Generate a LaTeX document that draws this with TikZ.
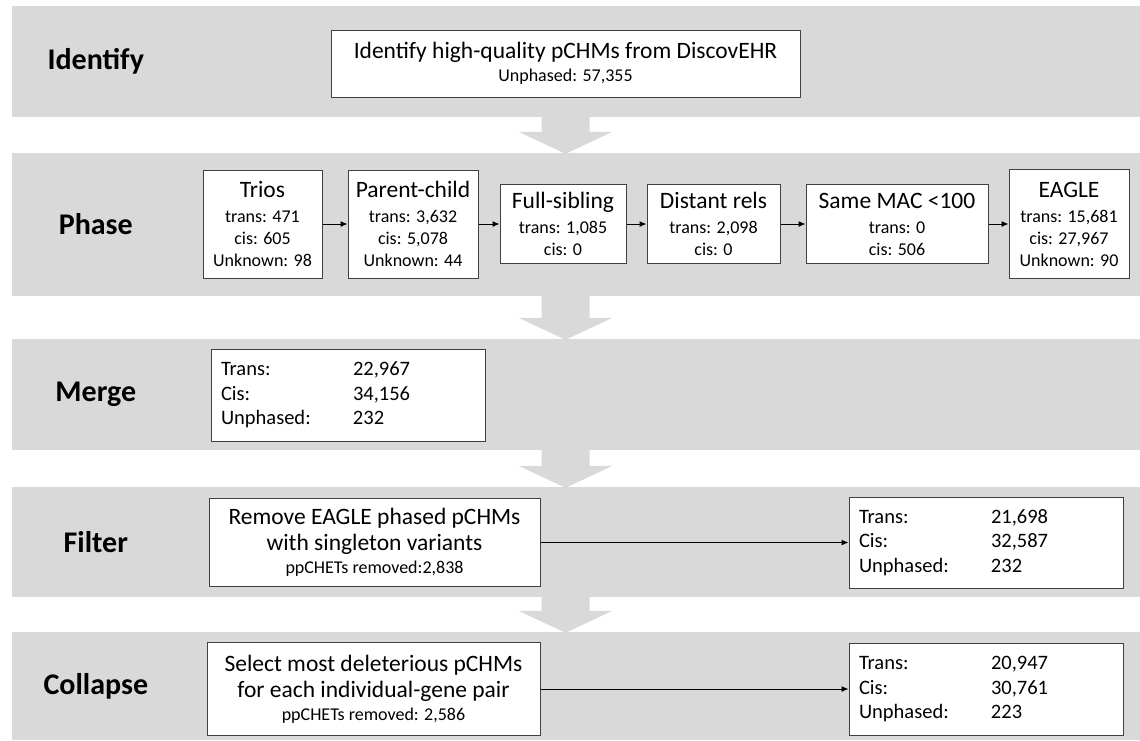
\documentclass[tikz,border=0pt]{standalone}
\usepackage{fontspec}
\setmainfont{Carlito}
\usetikzlibrary{calc,arrows.meta}

\definecolor{bandgray}{HTML}{D9D9D9}
\definecolor{boxline}{HTML}{404040}

\newcommand{\bigtxt}{\fontsize{23.5}{25}\selectfont}
\newcommand{\smalltxt}{\fontsize{18}{22}\selectfont}
\newcommand{\tabtxt}{\fontsize{20.5}{24.5}\selectfont}
\newcommand{\cnt}[2]{\makebox[132pt][l]{#1}#2}

\tikzset{
  band/.style={fill=bandgray, draw=none, minimum width=1128pt, inner sep=0pt},
  stage/.style={font=\fontsize{30}{32}\selectfont\bfseries},
  box/.style={draw=boxline, line width=1pt, fill=white, align=center, inner sep=0pt, font=\smalltxt},
  tally/.style={draw=boxline, line width=1pt, fill=white, align=left, text width=254pt,
    inner xsep=10pt, inner ysep=0pt, font=\tabtxt},
  flow/.style={line width=1pt, -{Latex[length=7pt,width=6pt]}},
}

\begin{document}
\begin{tikzpicture}[x=1pt,y=-1pt]
  \useasboundingbox (0,0) rectangle (1140,740);

  % stage bands
  \node[band, minimum height=111pt] (band1) at (576,61.5) {};
  \node[band, minimum height=143pt] (band2) at (576,224.5) {};
  \node[band, minimum height=111pt] (band3) at (576,394.5) {};
  \node[band, minimum height=110pt] (band4) at (576,542) {};
  \node[band, minimum height=108pt] (band5) at (576,686) {};

  \node[stage] (lident) at ($(band1.west)+(84,0)$) {Identify};
  \node[stage] (lphase) at ($(band2.west)+(84,0)$) {Phase};
  \node[stage] (lmerge) at ($(band3.west)+(84,0)$) {Merge};
  \node[stage] (lfilter) at ($(band4.west)+(84,0)$) {Filter};
  \node[stage] (lcollapse) at ($(band5.west)+(84,0)$) {Collapse};

  % identify
  \node[box, minimum width=469pt, minimum height=67pt] (ident) at (565.5,63.5)
    {{\bigtxt Identify high-quality pCHMs from DiscovEHR}\\[1pt]Unphased: 57,355};

  % big arrows between bands
  \coordinate (a1) at (band1.south -| ident);
  \coordinate (b1) at (band2.north -| ident);
  \coordinate (a2) at (band2.south -| ident);
  \coordinate (b2) at (band3.north -| ident);
  \coordinate (a3) at (band3.south -| ident);
  \coordinate (b3) at (band4.north -| ident);
  \coordinate (a4) at (band4.south -| ident);
  \coordinate (b4) at (band5.north -| ident);
  \fill[bandgray] ($(a1)+(-24,-1)$) -- ($(a1)+(24,-1)$) -- ($(b1)+(24,-21)$) -- ($(b1)+(47,-21)$)
    -- ($(b1)+(0,1)$) -- ($(b1)+(-47,-21)$) -- ($(b1)+(-24,-21)$) -- cycle;
  \fill[bandgray] ($(a2)+(-24,-1)$) -- ($(a2)+(24,-1)$) -- ($(b2)+(24,-21)$) -- ($(b2)+(47,-21)$)
    -- ($(b2)+(0,1)$) -- ($(b2)+(-47,-21)$) -- ($(b2)+(-24,-21)$) -- cycle;
  \fill[bandgray] ($(a3)+(-24,-1)$) -- ($(a3)+(24,-1)$) -- ($(b3)+(24,-21)$) -- ($(b3)+(47,-21)$)
    -- ($(b3)+(0,1)$) -- ($(b3)+(-47,-21)$) -- ($(b3)+(-24,-21)$) -- cycle;
  \fill[bandgray] ($(a4)+(-24,-1)$) -- ($(a4)+(24,-1)$) -- ($(b4)+(24,-21)$) -- ($(b4)+(47,-21)$)
    -- ($(b4)+(0,1)$) -- ($(b4)+(-47,-21)$) -- ($(b4)+(-24,-21)$) -- cycle;

  % phase
  \node[box, minimum width=119pt, minimum height=108pt] (trios) at (262.5,224)
    {{\bigtxt Trios}\\[3pt]trans: 471\\cis: 605\\Unknown: 98};
  \node[box, minimum width=130pt, minimum height=108pt] (parent) at (413,224)
    {{\bigtxt Parent-child}\\[3pt]trans: 3,632\\cis: 5,078\\Unknown: 44};
  \node[box, minimum width=126pt, minimum height=79pt] (fullsib) at (563,224)
    {{\bigtxt Full-sibling}\\[3pt]trans: 1,085\\cis: 0};
  \node[box, minimum width=133pt, minimum height=79pt] (distant) at (713.5,224)
    {{\bigtxt Distant rels}\\[3pt]trans: 2,098\\cis: 0};
  \node[box, minimum width=182pt, minimum height=79pt] (samemac) at (897,224)
    {{\bigtxt Same MAC <100}\\[3pt]trans: 0\\cis: 506};
  \node[box, minimum width=120pt, minimum height=109pt] (eagle) at (1069,224)
    {{\bigtxt EAGLE}\\[3pt]trans: 15,681\\cis: 27,967\\Unknown: 90};

  \draw[flow] (trios) -- (parent);
  \draw[flow] (parent) -- (fullsib);
  \draw[flow] (fullsib) -- (distant);
  \draw[flow] (distant) -- (samemac);
  \draw[flow] (samemac) -- (eagle);

  % merge
  \node[tally, minimum height=92pt] (merge) at (348,395)
    {\cnt{Trans:}{22,967}\\\cnt{Cis:}{34,156}\\\cnt{Unphased:}{232}};

  % filter
  \node[box, minimum width=331pt, minimum height=88pt] (filt) at (374.5,542.5)
    {{\bigtxt Remove EAGLE phased pCHMs}\\[4pt]{\bigtxt with singleton variants}\\[1pt]ppCHETs removed:2,838};
  \node[tally, minimum height=91pt] (filtres) at (986,542.5)
    {\cnt{Trans:}{21,698}\\\cnt{Cis:}{32,587}\\\cnt{Unphased:}{232}};
  \draw[flow] (filt) -- (filtres);

  % collapse
  \node[box, minimum width=333pt, minimum height=93pt] (coll) at (373.5,689)
    {{\bigtxt Select most deleterious pCHMs}\\[4pt]{\bigtxt for each individual-gene pair}\\[1pt]ppCHETs removed: 2,586};
  \node[tally, minimum height=92pt] (collres) at (986,689)
    {\cnt{Trans:}{20,947}\\\cnt{Cis:}{30,761}\\\cnt{Unphased:}{223}};
  \draw[flow] (coll) -- (collres);
\end{tikzpicture}
\end{document}
